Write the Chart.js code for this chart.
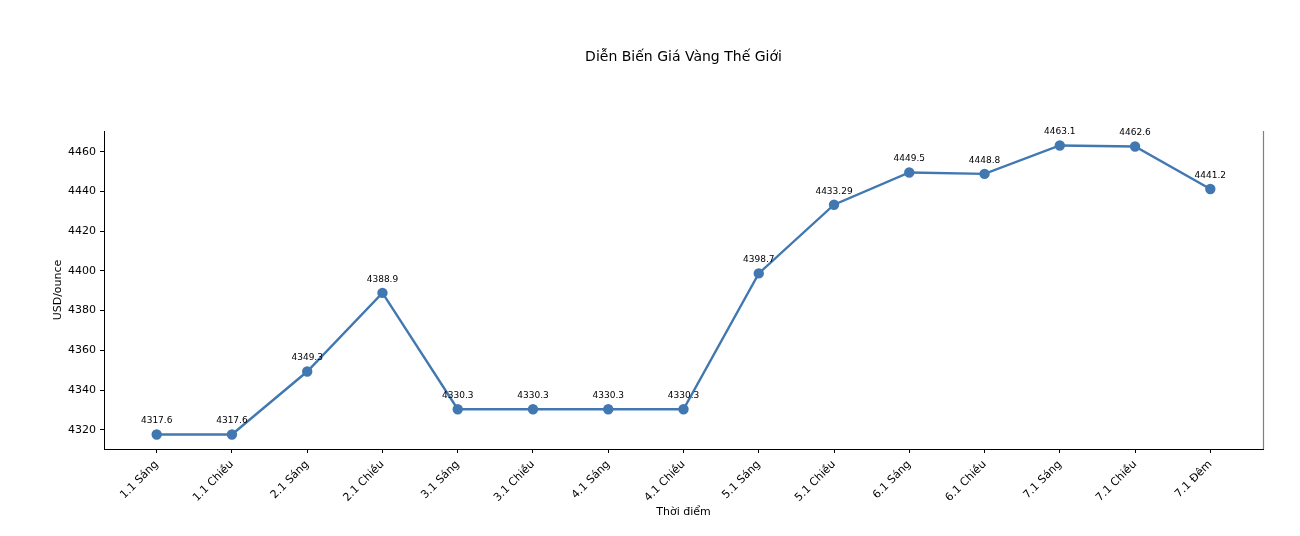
<!DOCTYPE html>
<html>
<head>
<meta charset="utf-8">
<script src="https://cdn.jsdelivr.net/npm/chart.js@4"></script>
<style>
html,body{margin:0;padding:0;background:#fff;}
#wrap{width:1300px;height:536px;position:relative;}
</style>
</head>
<body>
<div id="wrap"><canvas id="c" width="1300" height="536"></canvas></div>
<script>
const categories = ["1.1 Sáng","1.1 Chiều","2.1 Sáng","2.1 Chiều","3.1 Sáng","3.1 Chiều","4.1 Sáng","4.1 Chiều","5.1 Sáng","5.1 Chiều","6.1 Sáng","6.1 Chiều","7.1 Sáng","7.1 Chiều","7.1 Đêm"];
const prices = [4317.6,4317.6,4349.3,4388.9,4330.3,4330.3,4330.3,4330.3,4398.7,4433.29,4449.5,4448.8,4463.1,4462.6,4441.2];
const yTicks = [4320,4340,4360,4380,4400,4420,4440,4460];
const titleText = 'Diễn Biến Giá Vàng Thế Giới';

const FONT = "'DejaVu Sans', sans-serif";
const LINE = '#4178b1';

const dataLabels = {
  id: 'dataLabels',
  afterDatasetsDraw(chart) {
    const ctx = chart.ctx;
    const meta = chart.getDatasetMeta(0);
    ctx.save();
    ctx.font = "9px " + FONT;
    ctx.fillStyle = '#000';
    ctx.textAlign = 'center';
    ctx.textBaseline = 'bottom';
    meta.data.forEach((pt, i) => {
      ctx.fillText(String(prices[i]), pt.x, pt.y - 9);
    });
    ctx.restore();
  }
};
const decor = {
  id: 'decor',
  afterDraw(chart) {
    const a = chart.chartArea, ctx = chart.ctx;
    ctx.save();
    ctx.strokeStyle = '#808080';
    ctx.lineWidth = 1.2;
    ctx.beginPath();
    ctx.moveTo(a.right + 0.5, a.top);
    ctx.lineTo(a.right + 0.5, a.bottom);
    ctx.stroke();
    ctx.font = "14px " + FONT;
    ctx.fillStyle = '#000';
    ctx.textAlign = 'center';
    ctx.textBaseline = 'middle';
    ctx.fillText(titleText, (a.left + a.right) / 2, 57);
    ctx.restore();
  }
};

new Chart(document.getElementById('c'), {
  type: 'line',
  data: {
    datasets: [{
      data: prices.map((v, i) => ({x: i, y: v})),
      borderColor: LINE,
      backgroundColor: LINE,
      borderWidth: 2.4,
      pointRadius: 4,
      pointBackgroundColor: LINE,
      pointBorderColor: LINE,
      tension: 0,
      fill: false
    }]
  },
  options: {
    responsive: false,
    animation: false,
    events: [],
    layout: {padding: {left: 0, right: 37, top: 131, bottom: 0}},
    plugins: {
      legend: {display: false},
      tooltip: {enabled: false},
      title: {display: false}
    },
    scales: {
      x: {
        type: 'linear',
        min: -0.7,
        max: 14.7,
        afterBuildTicks(scale) { scale.ticks = categories.map((c, i) => ({value: i})); },
        afterFit(scale) { scale.height = 87; },
        ticks: {
          autoSkip: false,
          minRotation: 45,
          maxRotation: 45,
          color: '#000',
          font: {family: FONT, size: 11},
          padding: 5,
          callback: (v) => categories[v]
        },
        grid: {display: true, drawOnChartArea: false, drawTicks: true, tickLength: 4, color: '#000', tickWidth: 1},
        border: {display: true, color: '#000', width: 1},
        title: {display: true, text: 'Thời điểm', color: '#000', font: {family: FONT, size: 11}, padding: {top: 4, bottom: 17}}
      },
      y: {
        type: 'linear',
        min: 4310.3,
        max: 4470.4,
        afterBuildTicks(scale) { scale.ticks = yTicks.map(v => ({value: v})); },
        afterFit(scale) { scale.width = 104; },
        ticks: {
          color: '#000',
          font: {family: FONT, size: 11},
          padding: 4,
          callback: (v) => String(v)
        },
        grid: {display: true, drawOnChartArea: false, drawTicks: true, tickLength: 4, color: '#000', tickWidth: 1},
        border: {display: true, color: '#000', width: 1},
        title: {display: true, text: 'USD/ounce', color: '#000', font: {family: FONT, size: 11}, padding: {top: 52, bottom: 0}}
      }
    }
  },
  plugins: [dataLabels, decor]
});
</script>
</body>
</html>
